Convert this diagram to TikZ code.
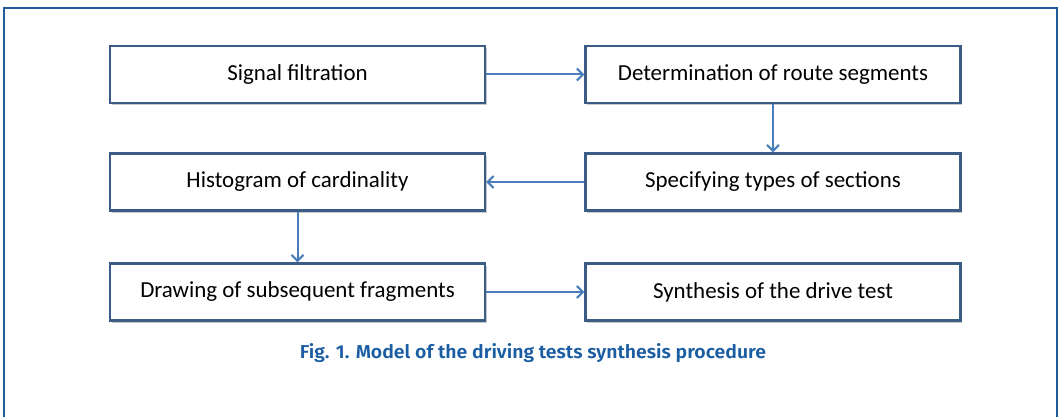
\documentclass[tikz,border=0pt]{standalone}
\usepackage{fontspec}
\usepackage{graphicx}
\setmainfont{Carlito}
\newfontfamily\capfont{Fira Sans SemiBold}
\usetikzlibrary{arrows.meta,shadows}
\definecolor{boxedge}{HTML}{3B5C85}
\definecolor{arrowc}{HTML}{4A7EBB}
\definecolor{framec}{HTML}{1F5C9C}
\definecolor{capc}{HTML}{1A5DA3}
\begin{document}
\begin{tikzpicture}[x=0.75pt,y=-0.75pt,
  stepbox/.style={draw=boxedge,line width=1.8pt,fill=white,minimum width=281.25pt,minimum height=42.75pt,
    inner sep=0pt,font=\fontsize{17.2}{20}\selectfont,
    drop shadow={opacity=0.35,shadow xshift=1.2pt,shadow yshift=-1.5pt,fill=black!60}},
  flow/.style={draw=arrowc,line width=1.5pt,-{Straight Barb[length=4.5pt,width=9pt,line width=1.5pt]}}]
\useasboundingbox (0,0) rectangle (1062,417);
\draw[framec,line width=1.2pt] (4,417) -- (4,8) -- (1057,8) -- (1057,417);
\node[stepbox] (b1) at (297.5,74.5) {Signal filtration};
\node[stepbox] (b2) at (773,74.5) {Determination of route segments};
\node[stepbox] (b3) at (773,182) {Specifying types of sections};
\node[stepbox] (b4) at (297.5,182) {Histogram of cardinality};
\node[stepbox] (b5) at (297.5,292) {Drawing of subsequent fragments};
\node[stepbox] (b6) at (773,292) {Synthesis of the drive test};
\draw[flow] (b1) -- (b2);
\draw[flow] (b2) -- (b3);
\draw[flow] (b3) -- (b4);
\draw[flow] (b4) -- (b5);
\draw[flow] (b5) -- (b6);
\node[text=capc,inner sep=0pt] (cap) at (533,353) {\resizebox{349.5pt}{\height}{\capfont\fontsize{14}{16}\selectfont Fig. 1. Model of the driving tests synthesis procedure}};
\end{tikzpicture}
\end{document}
